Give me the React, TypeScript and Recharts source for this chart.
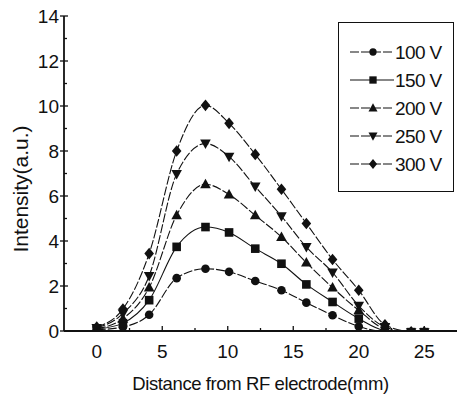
import React from "react";
import { LineChart, Line, XAxis, YAxis, Legend } from "recharts";

const distance = [0, 2, 4, 6.1, 8.3, 10.1, 12.1, 14.1, 16, 18, 20, 22, 24, 25];
const v100 = [0.05, 0.18, 0.72, 2.35, 2.77, 2.63, 2.22, 1.81, 1.26, 0.7, 0.2, -0.03, -0.05, -0.05];
const v150 = [0.08, 0.35, 1.37, 3.74, 4.62, 4.38, 3.66, 2.99, 2.07, 1.29, 0.55, 0.02, -0.05, -0.05];
const v200 = [0.1, 0.55, 1.93, 5.15, 6.52, 6.07, 5.14, 4.18, 3.04, 1.93, 0.92, 0.1, -0.05, -0.05];
const v250 = [0.13, 0.78, 2.45, 6.98, 8.33, 7.75, 6.42, 5.1, 3.73, 2.6, 1.12, 0.18, -0.05, -0.05];
const v300 = [0.18, 0.98, 3.44, 8.0, 10.03, 9.23, 7.85, 6.3, 4.78, 3.18, 1.81, 0.28, -0.03, -0.05];

const xTicks = [0, 2.5, 5, 7.5, 10, 12.5, 15, 17.5, 20, 22.5, 25];
const xMajor = [0, 5, 10, 15, 20, 25];
const yTicks = [0, 1, 2, 3, 4, 5, 6, 7, 8, 9, 10, 11, 12, 13, 14];
const yMajor = [0, 2, 4, 6, 8, 10, 12, 14];

const SERIES = [
  { key: "v100", name: "100 V", values: v100, shape: "circle", dash: "9 2" },
  { key: "v150", name: "150 V", values: v150, shape: "square", dash: undefined },
  { key: "v200", name: "200 V", values: v200, shape: "triangle", dash: "9 2" },
  { key: "v250", name: "250 V", values: v250, shape: "triangleDown", dash: "9 2" },
  { key: "v300", name: "300 V", values: v300, shape: "diamond", dash: "9 2" },
];

const data = distance.map((x, i) => {
  const row: Record<string, number> = { x };
  SERIES.forEach((s) => (row[s.key] = s.values[i]));
  return row;
});

const FONT = "'Liberation Sans', Arial, Helvetica, sans-serif";
const INK = "#111";

function Marker({ shape, cx, cy, s = 1 }: { shape: string; cx: number; cy: number; s?: number }) {
  if (cx == null || cy == null) return null;
  if (shape === "circle") return <circle cx={cx} cy={cy} r={4.3 * s} fill={INK} />;
  if (shape === "square")
    return <rect x={cx - 4.3 * s} y={cy - 4.3 * s} width={8.6 * s} height={8.6 * s} fill={INK} />;
  if (shape === "triangle")
    return (
      <polygon
        points={`${cx},${cy - 5.5 * s} ${cx - 5.3 * s},${cy + 4 * s} ${cx + 5.3 * s},${cy + 4 * s}`}
        fill={INK}
      />
    );
  if (shape === "triangleDown")
    return (
      <polygon
        points={`${cx},${cy + 5.5 * s} ${cx - 5.3 * s},${cy - 4 * s} ${cx + 5.3 * s},${cy - 4 * s}`}
        fill={INK}
      />
    );
  return (
    <polygon
      points={`${cx},${cy - 5.8 * s} ${cx + 4.8 * s},${cy} ${cx},${cy + 5.8 * s} ${cx - 4.8 * s},${cy}`}
      fill={INK}
    />
  );
}

const BottomTick = (props: any) => {
  const { x, y, payload } = props;
  const major = xMajor.includes(payload.value);
  return (
    <g>
      <line x1={x} y1={y} x2={x} y2={y - (major ? 5 : 3)} stroke={INK} strokeWidth={1.3} />
      {major && (
        <text x={x} y={y + 27} textAnchor="middle" fontSize={19} fontFamily={FONT} fill={INK}>
          {payload.value}
        </text>
      )}
    </g>
  );
};

const TopTick = (props: any) => {
  const { x, y, payload } = props;
  const major = xMajor.includes(payload.value);
  return <line x1={x} y1={y} x2={x} y2={y + (major ? 5 : 3)} stroke={INK} strokeWidth={1.3} />;
};

const LeftTick = (props: any) => {
  const { x, y, payload } = props;
  const major = yMajor.includes(payload.value);
  return (
    <g>
      <line x1={major ? x - 4 : x} y1={y} x2={x + (major ? 4 : 3)} y2={y} stroke={INK} strokeWidth={1.3} />
      {major && (
        <text x={x - 5} y={y} dy="0.36em" textAnchor="end" fontSize={19} fontFamily={FONT} fill={INK}>
          {payload.value}
        </text>
      )}
    </g>
  );
};

const RightTick = (props: any) => {
  const { x, y, payload } = props;
  const major = yMajor.includes(payload.value);
  return <line x1={x} y1={y} x2={x - (major ? 5 : 3)} y2={y} stroke={INK} strokeWidth={1.3} />;
};

const renderLegend = () => (
  <svg width={114} height={168} style={{ display: "block" }}>
    {SERIES.map((s, i) => {
      const y = 29 + i * 28;
      return (
        <g key={s.key}>
          <line x1={11} y1={y} x2={55} y2={y} stroke={INK} strokeWidth={1.1} strokeDasharray={s.dash} />
          <Marker shape={s.shape} cx={34} cy={y} s={0.85} />
          <text x={56} y={y + 6.5} fontSize={19} fontFamily={FONT} fill={INK} letterSpacing={-0.6}>
            {s.name}
          </text>
        </g>
      );
    })}
  </svg>
);

export default function App() {
  return (
    <div style={{ width: 468, height: 396, background: "#fff" }}>
      <style>{`body{margin:0;background:#fff}`}</style>
      <LineChart width={468} height={396} data={data} margin={{ top: 16, right: 11, left: 0, bottom: 0 }}>
        <XAxis
          dataKey="x"
          type="number"
          domain={[-2.5, 27.5]}
          allowDataOverflow
          ticks={xTicks}
          interval={0}
          height={65}
          tickSize={0}
          tickMargin={0}
          tickLine={false}
          tick={<BottomTick />}
          axisLine={{ stroke: INK, strokeWidth: 1.8 }}
          label={(p: any) => {
            const vb = p.viewBox || { x: 64, y: 331, width: 393 };
            return (
              <text
                x={vb.x + vb.width / 2}
                y={vb.y + 59}
                textAnchor="middle"
                fontSize={18.5}
                fontFamily={FONT}
                fill={INK}
                letterSpacing={-0.4}
              >
                Distance from RF electrode(mm)
              </text>
            );
          }}
        />
        <XAxis
          xAxisId="top"
          orientation="top"
          dataKey="x"
          type="number"
          domain={[-2.5, 27.5]}
          allowDataOverflow
          ticks={xTicks}
          interval={0}
          height={0}
          tickSize={0}
          tickMargin={0}
          tickLine={false}
          tick={<TopTick />}
          axisLine={{ stroke: INK, strokeWidth: 1.8 }}
        />
        <YAxis
          type="number"
          domain={[0, 14]}
          allowDataOverflow
          ticks={yTicks}
          interval={0}
          width={64}
          tickSize={0}
          tickMargin={0}
          tickLine={false}
          tick={<LeftTick />}
          axisLine={{ stroke: INK, strokeWidth: 1.8 }}
          label={(p: any) => {
            const vb = p.viewBox || { x: 0, y: 16, height: 315 };
            const cx = 28;
            const cy = vb.y + 173;
            return (
              <text
                x={cx}
                y={cy}
                transform={`rotate(-90, ${cx}, ${cy})`}
                textAnchor="middle"
                fontSize={21}
                fontFamily={FONT}
                fill={INK}
              >
                Intensity(a.u.)
              </text>
            );
          }}
        />
        <YAxis
          yAxisId="right"
          orientation="right"
          type="number"
          domain={[0, 14]}
          allowDataOverflow
          ticks={yTicks}
          interval={0}
          width={0}
          tickSize={0}
          tickMargin={0}
          tickLine={false}
          tick={<RightTick />}
          axisLine={{ stroke: INK, strokeWidth: 1.8 }}
        />
        <Legend
          layout="vertical"
          align="center"
          verticalAlign="middle"
          content={renderLegend}
          wrapperStyle={{
            left: 338,
            top: 22,
            width: 116,
            height: 170,
            border: `1.5px solid ${INK}`,
            background: "#fff",
            boxSizing: "border-box",
          }}
        />
        {SERIES.map((s) => (
          <Line
            key={s.key}
            dataKey={s.key}
            name={s.name}
            type="monotone"
            stroke={INK}
            strokeWidth={1.1}
            strokeDasharray={s.dash}
            dot={(p: any) => <Marker key={`${s.key}-${p.index}`} shape={s.shape} cx={p.cx} cy={p.cy} />}
            activeDot={false}
            isAnimationActive={false}
          />
        ))}
      </LineChart>
    </div>
  );
}
